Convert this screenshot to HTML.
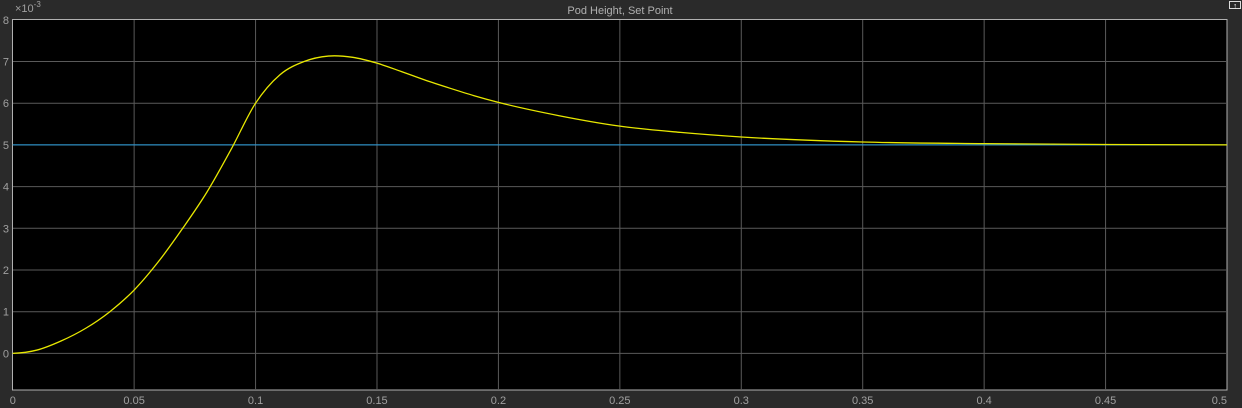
<!DOCTYPE html>
<html><head><meta charset="utf-8"><style>
html,body{margin:0;padding:0;background:#2a2a2a;width:1242px;height:408px;overflow:hidden}
svg{display:block;font-family:"Liberation Sans",sans-serif}
</style></head><body>
<svg id="chart" width="1242" height="408" xmlns="http://www.w3.org/2000/svg">
<rect x="0" y="0" width="1242" height="408" fill="#2a2a2a"/>
<text x="620" y="14" text-anchor="middle" fill="#b0b0b0" font-size="11">Pod Height, Set Point</text>
<g><rect x="1229.5" y="1.5" width="11" height="7" fill="#2a2a2a" stroke="#ddd"/><text x="1235" y="8.5" text-anchor="middle" fill="#fff" font-size="8">↑</text></g>
<rect x="12.5" y="19.5" width="1214.5" height="370.5" fill="#000" stroke="#b0b0b0"/>
<g id="grid"></g><g id="ticks"></g>
<text x="15" y="12" fill="#a0a0a0" font-size="11">×10<tspan dy="-5" font-size="8">-3</tspan></text>
<g id="series"></g>
</svg>
<script>
const xTicks=[0,0.05,0.1,0.15,0.2,0.25,0.3,0.35,0.4,0.45,0.5];
const xTickLabels=["0","0.05","0.1","0.15","0.2","0.25","0.3","0.35","0.4","0.45","0.5"];
const yTicks=[0,1,2,3,4,5,6,7,8];
const yTickLabels=["0","1","2","3","4","5","6","7","8"];
const setPoint=5;
const times=[0,0.01,0.02,0.03,0.04,0.05,0.06,0.07,0.08,0.09,0.10,0.11,0.12,0.13,0.14,0.15,0.16,0.17,0.18,0.19,0.20,0.225,0.25,0.275,0.3,0.35,0.4,0.45,0.5];
const heights=[0,0.08,0.3,0.6,1.0,1.52,2.2,3.0,3.87,4.9,6.0,6.68,7.0,7.13,7.10,6.96,6.76,6.55,6.36,6.18,6.02,5.7,5.45,5.3,5.19,5.07,5.03,5.01,5.0];
const NS="http://www.w3.org/2000/svg";
const X0=12.7,X1=1227,Y0=353.4,YK=41.7;
const xs=t=>X0+(X1-X0)*t/0.5;
const ys=v=>Y0-v*YK;
const grid=document.getElementById('grid'),ticks=document.getElementById('ticks'),series=document.getElementById('series');
function mk(tag,at){const e=document.createElementNS(NS,tag);for(const k in at)e.setAttribute(k,at[k]);return e;}
xTicks.forEach((t,i)=>{
  const x=xs(t);
  if(i>0&&i<xTicks.length-1){const l=mk('line',{x1:x,x2:x,y1:20,y2:390,stroke:'#5a5a5a','stroke-width':1});
  
  grid.appendChild(l);}
  const tx=mk('text',{x:x,y:404,'text-anchor':i==0?'start':(i==xTicks.length-1?'end':'middle'),fill:'#a0a0a0','font-size':11});
  if(i==0)tx.setAttribute('x',x-3);
  tx.textContent=xTickLabels[i];
  
  ticks.appendChild(tx);
});
yTicks.forEach((v,i)=>{
  const y=ys(v);
  if(v<8){const l=mk('line',{x1:13,x2:1227,y1:y,y2:y,stroke:'#5a5a5a','stroke-width':1});
  
  grid.appendChild(l);}
  const tx=mk('text',{x:9,y:y+4,'text-anchor':'end',fill:'#a0a0a0','font-size':11});
  tx.textContent=yTickLabels[i];
  
  ticks.appendChild(tx);
});
const sp=mk('line',{x1:xs(0),x2:xs(0.5),y1:ys(setPoint),y2:ys(setPoint),stroke:'#2a9fe0','stroke-width':1});


series.appendChild(sp);
// cubic Hermite in t with non-uniform derivative estimates
const n=times.length,m=[];
for(let i=0;i<n;i++){
  if(i==0)m.push((heights[1]-heights[0])/(times[1]-times[0])*0.3);
  else if(i==n-1)m.push(0);
  else{const h0=times[i]-times[i-1],h1=times[i+1]-times[i];
    const d0=(heights[i]-heights[i-1])/h0,d1=(heights[i+1]-heights[i])/h1;
    m.push((h1*d0+h0*d1)/(h0+h1));}
}
let d='M'+xs(times[0])+','+ys(heights[0]);
for(let i=0;i<n-1;i++){
  const h=times[i+1]-times[i];
  const t1=times[i]+h/3,t2=times[i+1]-h/3;
  const v1=heights[i]+m[i]*h/3,v2=heights[i+1]-m[i+1]*h/3;
  d+=` C${xs(t1)},${ys(v1)} ${xs(t2)},${ys(v2)} ${xs(times[i+1])},${ys(heights[i+1])}`;
}
const pl=mk('path',{d:d,fill:'none',stroke:'#e8e800','stroke-width':1.3});


series.appendChild(pl);
</script>
</body></html>
